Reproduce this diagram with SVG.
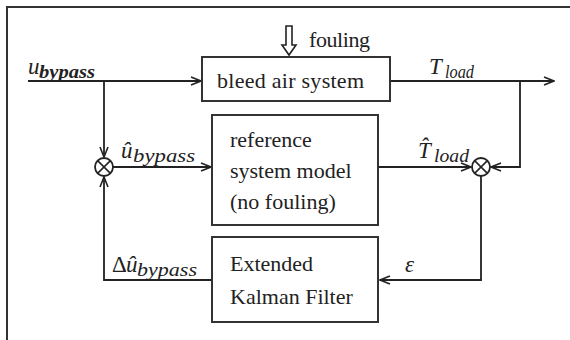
<svg xmlns="http://www.w3.org/2000/svg" width="570" height="340" viewBox="0 0 570 340">
<defs>
<marker id="arr" viewBox="0 0 12 10" refX="11" refY="5" markerWidth="12" markerHeight="10" markerUnits="userSpaceOnUse" orient="auto">
<path d="M1,1 L11,5 L1,9" fill="none" stroke="#222" stroke-width="1.6"/>
</marker>
<style>
.box{fill:#fff;stroke:#333;stroke-width:2}
.ln{fill:none;stroke:#222;stroke-width:1.8}
.t{font-size:22px;fill:#222}
.m{font-style:italic;fill:#222}
.big{font-size:23px}
.sub{font-size:18px}
</style>
</defs>
<rect x="0" y="0" width="570" height="340" fill="#fff"/>
<path d="M7,340 V7 H570" fill="none" stroke="#333" stroke-width="2"/>

<g id="connectors">
<line class="ln" x1="28" y1="81" x2="201" y2="81" marker-end="url(#arr)"/>
<line class="ln" x1="390" y1="81" x2="554" y2="81" marker-end="url(#arr)"/>
<line class="ln" x1="104" y1="81" x2="104" y2="157" marker-end="url(#arr)"/>
<line class="ln" x1="113" y1="167" x2="211" y2="167" marker-end="url(#arr)"/>
<line class="ln" x1="378" y1="167" x2="471" y2="167" marker-end="url(#arr)"/>
<polyline class="ln" points="520,81 520,167 491,167" marker-end="url(#arr)"/>
<polyline class="ln" points="481,176 481,280 380,280" marker-end="url(#arr)"/>
<polyline class="ln" points="212,280 104,280 104,177" marker-end="url(#arr)"/>
<path d="M286,26 H292 V45 H296 L289,55 L282,45 H286 Z" fill="#fff" stroke="#222" stroke-width="1.6"/>
</g>

<g font-family="'Liberation Serif', 'DejaVu Serif', 'Times New Roman', serif">
<g id="bleed">
<rect class="box" x="202" y="57" width="188" height="44"/>
<text class="t" x="217" y="88" textLength="147">bleed air system</text>
</g>
<g id="reference">
<rect class="box" x="212" y="115" width="166" height="110"/>
<text class="t" x="230" y="147">reference</text>
<text class="t" x="230" y="178">system model</text>
<text class="t" x="230" y="209">(no fouling)</text>
</g>
<g id="ekf">
<rect class="box" x="212" y="237" width="166" height="85"/>
<text class="t" x="230" y="271">Extended</text>
<text class="t" x="230" y="304">Kalman Filter</text>
</g>
<g id="sum1">
<circle cx="104" cy="167" r="9" fill="#fff" stroke="#222" stroke-width="1.8"/>
<path d="M97.6,160.6 L110.4,173.4 M110.4,160.6 L97.6,173.4" stroke="#222" stroke-width="1.5"/>
</g>
<g id="sum2">
<circle cx="481" cy="167" r="9" fill="#fff" stroke="#222" stroke-width="1.8"/>
<path d="M474.6,160.6 L487.4,173.4 M487.4,160.6 L474.6,173.4" stroke="#222" stroke-width="1.5"/>
</g>

<g id="labels">
<text class="t" x="309" y="47" textLength="61">fouling</text>
<text class="m big" x="28" y="74">u</text>
<text class="m sub" x="39" y="78" font-weight="bold" textLength="56" lengthAdjust="spacingAndGlyphs">bypass</text>
<text class="m big" x="429" y="74">T</text>
<text class="m sub" x="445" y="78" textLength="29" lengthAdjust="spacingAndGlyphs">load</text>
<text class="m big" x="121" y="158">û</text>
<text class="m sub" x="133" y="162" textLength="62" lengthAdjust="spacingAndGlyphs">bypass</text>
<text class="m big" x="418" y="158">T̂</text>
<text class="m sub" x="434" y="162" textLength="35" lengthAdjust="spacingAndGlyphs">load</text>
<text class="big" x="112" y="272" fill="#222">Δ</text>
<text class="m big" x="126" y="272">û</text>
<text class="m sub" x="137" y="276" textLength="60" lengthAdjust="spacingAndGlyphs">bypass</text>
<text class="m big" x="405" y="272">ε</text>
</g>
</g>
</svg>
